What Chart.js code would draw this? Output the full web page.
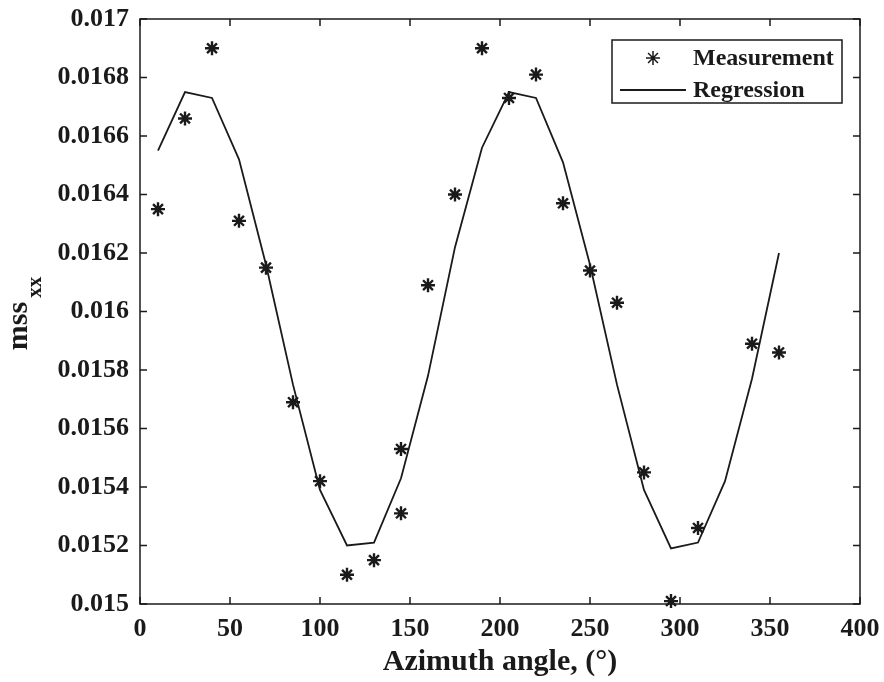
<!DOCTYPE html>
<html lang="en">
  <head>
    <meta charset="utf-8" />
    <title>mss_xx vs azimuth</title>
    <style>
      * {
        margin: 0;
        padding: 0;
      }
      body {
        background: white;
      }
      .chartBox {
        width: 884px;
        height: 682px;
      }
    </style>
  </head>
  <body>
    <div class="chartBox">
      <canvas id="myChart"></canvas>
    </div>

    <script src="https://cdn.jsdelivr.net/npm/chart.js"></script>

    <script>
      // data block
      const measAngle = [10, 25, 40, 55, 70, 85, 100, 115, 130, 145, 145, 160, 175, 190, 205, 220, 235, 250, 265, 280, 295, 310, 340, 355];
      const measValue = [0.01635, 0.01666, 0.0169, 0.01631, 0.01615, 0.01569, 0.01542, 0.0151, 0.01515, 0.01531, 0.01553, 0.01609, 0.0164, 0.0169, 0.01673, 0.01681, 0.01637, 0.01614, 0.01603, 0.01545, 0.01501, 0.01526, 0.01589, 0.01586];

      const regAngle = [10, 25, 40, 55, 70, 85, 100, 115, 130, 145, 160, 175, 190, 205, 220, 235, 250, 265, 280, 295, 310, 325, 340, 355];
      const regValue = [0.01655, 0.01675, 0.01673, 0.01652, 0.01616, 0.01575, 0.01539, 0.0152, 0.01521, 0.01543, 0.01578, 0.01622, 0.01656, 0.01675, 0.01673, 0.01651, 0.01616, 0.01575, 0.01539, 0.01519, 0.01521, 0.01542, 0.01577, 0.0162];

      const xTicks = [0, 50, 100, 150, 200, 250, 300, 350, 400];
      const yTicks = [0.015, 0.0152, 0.0154, 0.0156, 0.0158, 0.016, 0.0162, 0.0164, 0.0166, 0.0168, 0.017];

      const serif = "'Liberation Serif', 'Times New Roman', serif";
      const ink = "#1a1a1a";

      const toXY = (xs, ys) => xs.map((x, i) => ({ x: x, y: ys[i] }));

      const data = {
        datasets: [
          {
            label: "Measurement",
            data: toXY(measAngle, measValue),
            showLine: false,
            pointStyle: "star",
            pointRadius: 7,
            pointBorderWidth: 2.4,
            borderColor: ink,
            backgroundColor: ink,
            clip: false,
          },
          {
            label: "Regression",
            data: toXY(regAngle, regValue),
            showLine: true,
            pointRadius: 0,
            borderColor: ink,
            borderWidth: 1.8,
            tension: 0,
          },
        ],
      };

      // box, inward ticks, y title and legend
      const matlabAxes = {
        id: "matlabAxes",
        afterDraw(chart) {
          const { ctx, chartArea: a, scales } = chart;
          const tl = 7;
          ctx.save();
          ctx.strokeStyle = ink;
          ctx.lineWidth = 1.5;
          ctx.strokeRect(a.left, a.top, a.right - a.left, a.bottom - a.top);
          ctx.beginPath();
          xTicks.forEach((v) => {
            const px = scales.x.getPixelForValue(v);
            ctx.moveTo(px, a.bottom);
            ctx.lineTo(px, a.bottom - tl);
            ctx.moveTo(px, a.top);
            ctx.lineTo(px, a.top + tl);
          });
          yTicks.forEach((v) => {
            const py = scales.y.getPixelForValue(v);
            ctx.moveTo(a.left, py);
            ctx.lineTo(a.left + tl, py);
            ctx.moveTo(a.right, py);
            ctx.lineTo(a.right - tl, py);
          });
          ctx.stroke();

          // y title: mss with subscript xx
          ctx.fillStyle = ink;
          ctx.textBaseline = "alphabetic";
          ctx.font = "bold 30px " + serif;
          const wMain = ctx.measureText("mss").width;
          ctx.font = "bold 21px " + serif;
          const wSub = ctx.measureText("xx").width;
          const mid = (a.top + a.bottom) / 2 + 2;
          const total = wMain + 4 + wSub;
          ctx.translate(27, mid + total / 2);
          ctx.rotate(-Math.PI / 2);
          ctx.font = "bold 30px " + serif;
          ctx.fillText("mss", 0, 0);
          ctx.font = "bold 21px " + serif;
          ctx.fillText("xx", wMain + 4, 14);
          ctx.restore();

          // legend
          ctx.save();
          const box = { l: 612, t: 40, r: 842, b: 103 };
          ctx.fillStyle = "white";
          ctx.fillRect(box.l, box.t, box.r - box.l, box.b - box.t);
          ctx.strokeStyle = ink;
          ctx.lineWidth = 1.5;
          ctx.strokeRect(box.l, box.t, box.r - box.l, box.b - box.t);
          const ds = chart.data.datasets;
          const rows = [58, 90];
          ctx.font = "bold 24px " + serif;
          ctx.fillStyle = ink;
          ctx.textBaseline = "middle";
          ctx.fillText(ds[0].label, 693, rows[0] + 1);
          ctx.fillText(ds[1].label, 693, rows[1] + 1);
          Chart.helpers.drawPoint(
            ctx,
            { pointStyle: "star", radius: 7, borderWidth: 2.4 },
            653,
            rows[0]
          );
          ctx.lineWidth = 2;
          ctx.beginPath();
          ctx.moveTo(620, rows[1]);
          ctx.lineTo(686, rows[1]);
          ctx.stroke();
          ctx.restore();
        },
      };

      // config block
      const config = {
        type: "scatter",
        data: data,
        options: {
          responsive: true,
          maintainAspectRatio: false,
          animation: false,
          layout: {
            padding: { top: 19, right: 24, left: 0, bottom: 0 },
          },
          plugins: {
            legend: { display: false },
            tooltip: { enabled: false },
          },
          scales: {
            x: {
              type: "linear",
              min: 0,
              max: 400,
              afterFit: (scale) => {
                scale.height = 78;
                scale.paddingLeft = 0;
                scale.paddingRight = 0;
              },
              afterBuildTicks: (scale) => {
                scale.ticks = xTicks.map((v) => ({ value: v }));
              },
              grid: { display: false, drawTicks: false },
              border: { display: false },
              ticks: {
                padding: 10,
                color: ink,
                font: { family: serif, size: 26, weight: "bold" },
              },
              title: {
                display: true,
                text: "Azimuth angle, (°)",
                color: ink,
                font: { family: serif, size: 30, weight: "bold" },
                padding: { top: 0, bottom: 2 },
              },
            },
            y: {
              type: "linear",
              min: 0.015,
              max: 0.017,
              afterFit: (scale) => {
                scale.width = 140;
                scale.paddingTop = 0;
                scale.paddingBottom = 0;
              },
              afterBuildTicks: (scale) => {
                scale.ticks = yTicks.map((v) => ({ value: v }));
              },
              grid: { display: false, drawTicks: false },
              border: { display: false },
              ticks: {
                padding: 11,
                color: ink,
                font: { family: serif, size: 26, weight: "bold" },
                callback: (v) => String(Number(v.toFixed(4))),
              },
            },
          },
        },
        plugins: [matlabAxes],
      };

      // init render block
      const myChart = new Chart(document.getElementById("myChart"), config);
    </script>
  </body>
</html>
